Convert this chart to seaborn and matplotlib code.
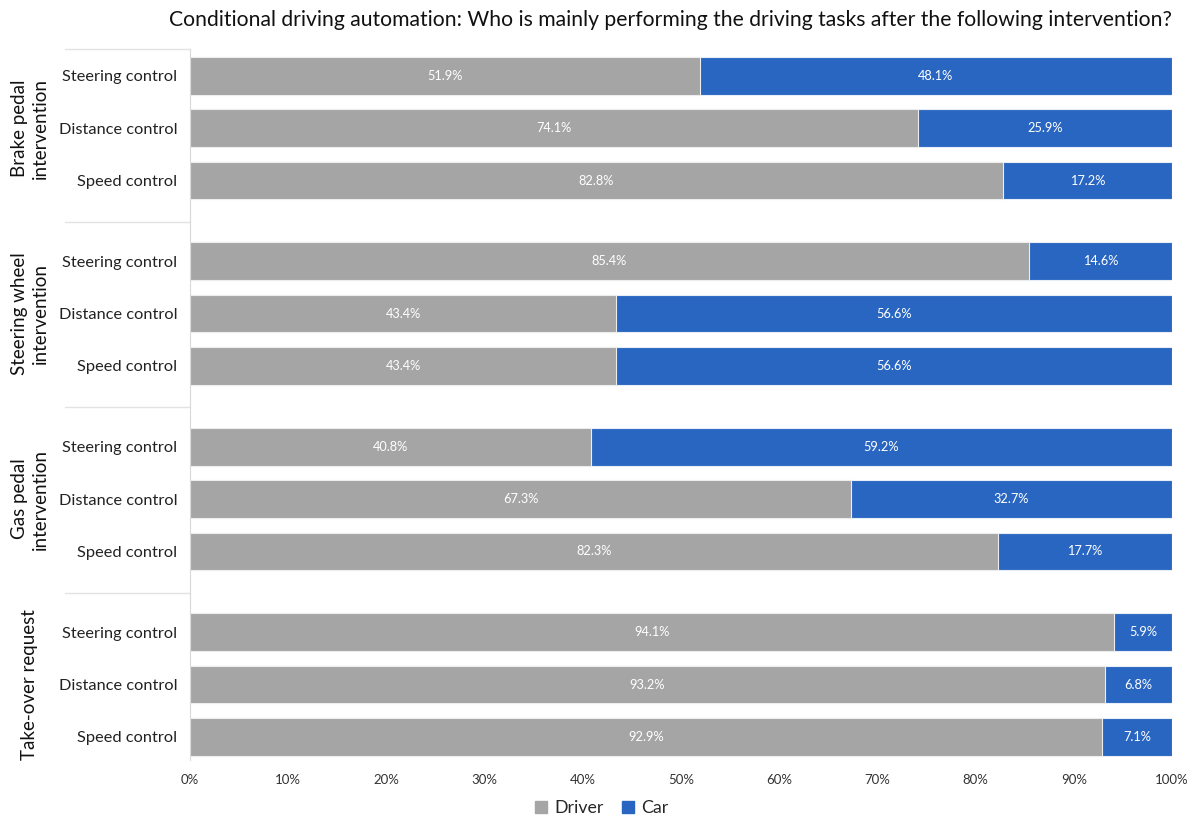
import matplotlib
matplotlib.use("Agg")
import matplotlib.pyplot as plt
from matplotlib.patches import Patch
import seaborn as sns
import pandas as pd

# Survey shares (%) per intervention and automated function
groups = ["Brake pedal\nintervention", "Steering wheel\nintervention",
          "Gas pedal\nintervention", "Take-over request"]
functions = ["Steering control", "Distance control", "Speed control"]
driver = [51.9, 74.1, 82.8,
          85.4, 43.4, 43.4,
          40.8, 67.3, 82.3,
          94.1, 93.2, 92.9]
car = [48.1, 25.9, 17.2,
       14.6, 56.6, 56.6,
       59.2, 32.7, 17.7,
       5.9, 6.8, 7.1]
xticks = list(range(0, 101, 10))

GRAY = "#A5A5A5"
BLUE = "#2966C2"
sns.set_style("white")
plt.rcParams["font.family"] = ["Lato", "DejaVu Sans"]

# vertical slots: three bars per group, with a wider step between groups
GSTEP = 3.54
pos = []
for g in range(len(groups)):
    for k in range(len(functions)):
        pos.append(g * GSTEP + k)

df = pd.DataFrame({
    "pos": pos,
    "driver": driver,
    "car": car,
})
df["total"] = df["driver"] + df["car"]

fig = plt.figure(figsize=(11.89, 8.18), dpi=100)
ax = fig.add_axes([0.1598, 0.0709, 0.8259, 0.8692])

bw = 0.72
sns.barplot(data=df, x="total", y="pos", orient="h", native_scale=True,
            width=bw, color=BLUE, saturation=1, edgecolor="#E8EEF8",
            linewidth=0.8, ax=ax)
sns.barplot(data=df, x="driver", y="pos", orient="h", native_scale=True,
            width=bw, color=GRAY, saturation=1, edgecolor="#EDEDED",
            linewidth=0.8, ax=ax)

for p, d, c in zip(df["pos"], df["driver"], df["car"]):
    ax.text(d / 2, p, f"{d:.1f}%", ha="center", va="center",
            color="white", fontsize=9.2)
    ax.text(d + c / 2, p, f"{c:.1f}%", ha="center", va="center",
            color="white", fontsize=9.2)

ax.set_xlim(0, 100)
ax.set_ylim(13.06, -0.51)
ax.set_xticks(xticks)
ax.set_xticklabels([f"{t}%" for t in xticks], fontsize=9.5, color="#333333")
ax.set_yticks(pos)
ax.set_yticklabels(functions * len(groups), fontsize=11.8, color="#222222")
ax.tick_params(axis="both", length=0)
ax.tick_params(axis="y", pad=9)
ax.tick_params(axis="x", pad=10)
ax.set_xlabel("")
ax.set_ylabel("")
for s in ["top", "right", "bottom"]:
    ax.spines[s].set_visible(False)
ax.spines["left"].set_color("#D9D9D9")
ax.spines["left"].set_linewidth(0.8)

# group separators and rotated group names in the left margin
trans = ax.get_yaxis_transform()
seps = [-0.51, 2.8, 6.33, 9.87]
for y in seps:
    ax.plot([-0.127, 0], [y, y], transform=trans, color="#E3E3E3",
            lw=1.0, clip_on=False)
for g, name in enumerate(groups):
    center = g * GSTEP + 1
    ax.text(-0.163, center, name, transform=trans, rotation=90,
            ha="center", va="center", fontsize=13.5, color="#111111",
            linespacing=1.3)

fig.suptitle("Conditional driving automation: Who is mainly performing the "
             "driving tasks after the following intervention?",
             x=0.5635, y=0.988, fontsize=15.2, color="#111111")

handles = [Patch(color=GRAY, label="Driver"), Patch(color=BLUE, label="Car")]
fig.legend(handles=handles, loc="lower center", bbox_to_anchor=(0.506, -0.015),
           ncol=2, frameon=False, fontsize=12.8, handlelength=0.7,
           handleheight=0.7, handletextpad=0.4, columnspacing=1.0,
           borderpad=0.3)

fig.savefig("out.png", dpi=100)
